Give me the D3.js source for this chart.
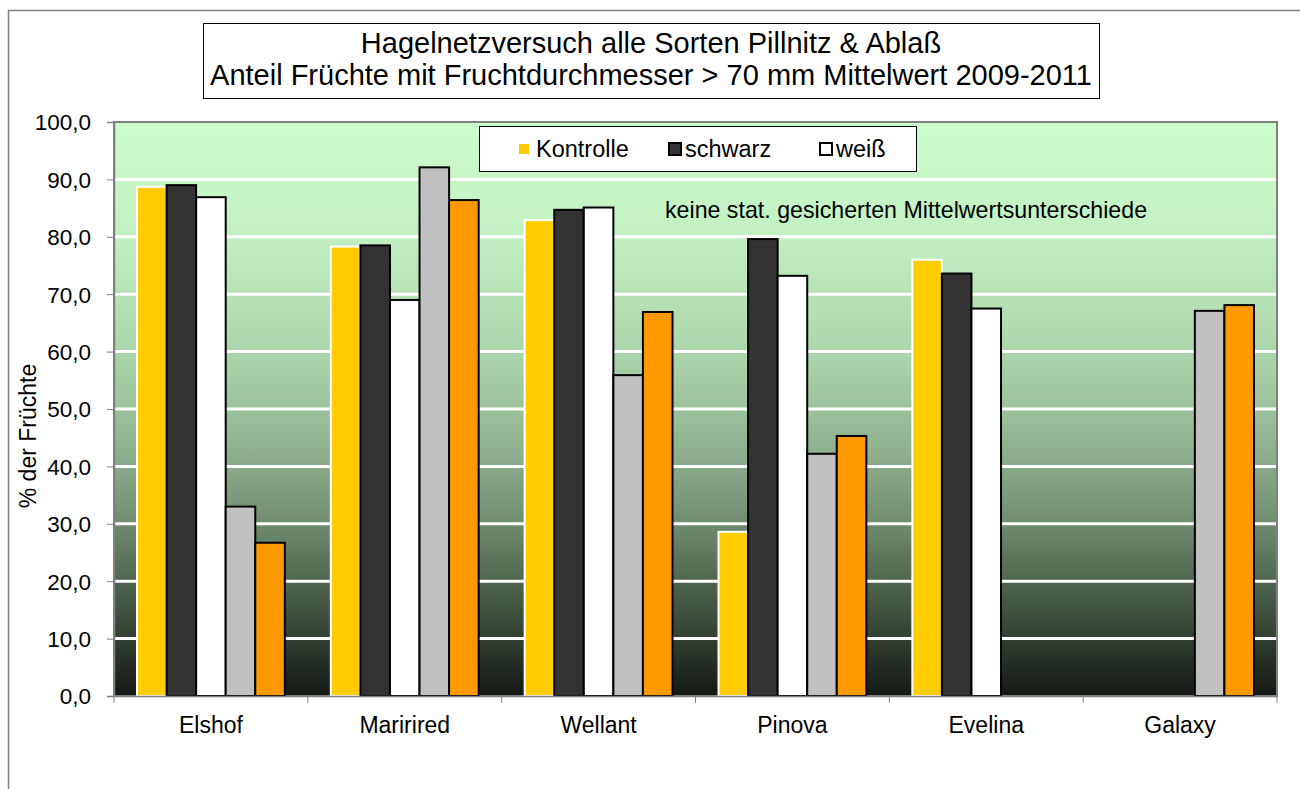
<!DOCTYPE html>
<html>
<head>
<meta charset="utf-8">
<script src="https://cdn.jsdelivr.net/npm/d3@7.9.0/dist/d3.min.js"></script>
<style>
  body { margin: 0; background: #fff; }
  svg { font-family: "Liberation Sans", Arial, sans-serif; }
</style>
</head>
<body>
<svg id="chart" width="1300" height="789"></svg>
<script>
// data
const categories = ['Elshof', 'Maririred', 'Wellant', 'Pinova', 'Evelina', 'Galaxy'];
const seriesNames = ['Kontrolle', 'schwarz', 'weiß', 'grau', 'orange'];
const kontrolle = [88.7, 78.3, 82.9, 28.6, 76.0, null];
const schwarz   = [89.0, 78.5, 84.7, 79.6, 73.6, null];
const weiss     = [86.9, 69.0, 85.1, 73.2, 67.5, null];
const grau      = [33.0, 92.1, 55.9, 42.2, null, 67.1];
const orange    = [26.7, 86.4, 66.9, 45.3, null, 68.1];
const yTicks = [0, 10, 20, 30, 40, 50, 60, 70, 80, 90, 100];
const legendNames = ['Kontrolle', 'schwarz', 'weiß'];

const seriesValues = [kontrolle, schwarz, weiss, grau, orange];
const fills   = ['#FFCC00', '#333333', '#FFFFFF', '#C0C0C0', '#FF9900'];
const strokes = ['#FFFFFF', '#000000', '#000000', '#000000', '#000000'];

const svg = d3.select('#chart');
const plotLeft = 114, plotTop = 122, plotRight = 1277, plotBottom = 696;

/* outer chart frame */
svg.append('path')
  .attr('d', `M8.5,800 V10.5 H1310`)
  .attr('fill', 'none').attr('stroke', '#808080').attr('stroke-width', 1.5);

/* scales */
const x0 = d3.scaleBand().domain(categories).range([plotLeft, plotRight]);
const x1 = d3.scaleBand().domain(seriesNames)
  .range([23, x0.bandwidth() - 23]);
const y = d3.scaleLinear().domain([0, 100]).range([plotBottom, plotTop]);

/* background gradient */
const defs = svg.append('defs');
const grad = defs.append('linearGradient')
  .attr('id', 'bg').attr('x1', 0).attr('y1', 0).attr('x2', 0).attr('y2', 1);
[[0, '#ccfdcc'], [0.2, '#c2f0c2'], [0.4, '#abd6ab'], [0.5, '#9cc29c'],
 [0.6, '#89aa89'], [0.7, '#6f8c6f'], [0.8, '#4f654f'], [0.9, '#323f32'], [1, '#141814']]
  .forEach(([o, c]) => grad.append('stop').attr('offset', o).attr('stop-color', c));

svg.append('rect')
  .attr('x', plotLeft).attr('y', plotTop)
  .attr('width', plotRight - plotLeft).attr('height', plotBottom - plotTop)
  .attr('fill', 'url(#bg)');

/* gridlines */
svg.append('g')
  .selectAll('line')
  .data(yTicks.filter(d => d > 0 && d < 100))
  .join('line')
  .attr('x1', plotLeft).attr('x2', plotRight)
  .attr('y1', d => y(d)).attr('y2', d => y(d))
  .attr('stroke', '#fff').attr('stroke-width', 3);

/* plot border */
svg.append('rect')
  .attr('x', plotLeft).attr('y', plotTop)
  .attr('width', plotRight - plotLeft).attr('height', plotBottom - plotTop)
  .attr('fill', 'none').attr('stroke', '#808080').attr('stroke-width', 2);

/* bars */
const barData = [];
categories.forEach((c, i) => {
  seriesNames.forEach((s, j) => {
    const v = seriesValues[j][i];
    if (v != null) barData.push({ cat: c, series: s, idx: j, value: v });
  });
});

svg.append('g')
  .selectAll('rect')
  .data(barData)
  .join('rect')
  .attr('x', d => x0(d.cat) + x1(d.series))
  .attr('y', d => y(d.value))
  .attr('width', x1.bandwidth())
  .attr('height', d => y(0) - y(d.value))
  .attr('fill', d => fills[d.idx])
  .attr('stroke', d => strokes[d.idx])
  .attr('stroke-width', 2);

/* y axis */
const yAxis = svg.append('g')
  .attr('transform', `translate(${plotLeft},0)`)
  .call(d3.axisLeft(y).tickValues(yTicks).tickSize(7)
    .tickFormat(d => d3.format('.1f')(d).replace('.', ',')));
yAxis.select('.domain').attr('stroke', '#808080').attr('stroke-width', 1.5);
yAxis.selectAll('.tick line').attr('stroke', '#808080');
yAxis.selectAll('.tick text')
  .attr('font-size', 22.5).attr('fill', '#000')
  .attr('font-family', '"Liberation Sans", Arial, sans-serif')
  .attr('x', -23).attr('dy', '0.35em');

/* x axis */
const xAxis = svg.append('g')
  .attr('transform', `translate(0,${plotBottom})`)
  .call(d3.axisBottom(x0).tickSize(0));
xAxis.select('.domain').attr('stroke', '#808080').attr('stroke-width', 1.5);
xAxis.selectAll('.tick text')
  .attr('font-size', 23).attr('fill', '#000')
  .attr('font-family', '"Liberation Sans", Arial, sans-serif')
  .attr('dy', 0).attr('y', 37);
// category separator ticks
svg.append('g')
  .selectAll('line')
  .data(categories.concat(['end']))
  .join('line')
  .attr('x1', (d, i) => i < categories.length ? x0(d) : plotRight)
  .attr('x2', (d, i) => i < categories.length ? x0(d) : plotRight)
  .attr('y1', plotBottom).attr('y2', plotBottom + 7)
  .attr('stroke', '#808080').attr('stroke-width', 1);

/* y axis title */
svg.append('text')
  .attr('transform', `translate(36,436) rotate(-90)`)
  .attr('text-anchor', 'middle')
  .attr('font-size', 23)
  .text('% der Früchte');

/* title box */
svg.append('rect')
  .attr('x', 203.5).attr('y', 23.5).attr('width', 896).attr('height', 75)
  .attr('fill', '#fff').attr('stroke', '#000').attr('stroke-width', 1);
svg.append('text')
  .attr('x', 651).attr('y', 53).attr('text-anchor', 'middle').attr('font-size', 29)
  .text('Hagelnetzversuch alle Sorten Pillnitz & Ablaß');
svg.append('text')
  .attr('x', 651).attr('y', 85).attr('text-anchor', 'middle').attr('font-size', 29)
  .text('Anteil Früchte mit Fruchtdurchmesser > 70 mm Mittelwert 2009-2011');

/* legend */
const legend = svg.append('g');
legend.append('rect')
  .attr('x', 479.5).attr('y', 126.5).attr('width', 437).attr('height', 45)
  .attr('fill', '#fff').attr('stroke', '#000').attr('stroke-width', 1);
const legendX = [518, 669, 820];
legendNames.forEach((n, i) => {
  legend.append('rect')
    .attr('x', legendX[i]).attr('y', 143).attr('width', 12).attr('height', 12)
    .attr('fill', fills[i])
    .attr('stroke', strokes[i]).attr('stroke-width', 2);
  legend.append('text')
    .attr('x', legendX[i] + (i === 0 ? 18 : 16)).attr('y', 157)
    .attr('font-size', 23.5)
    .text(n);
});

/* annotation */
svg.append('text')
  .attr('x', 665).attr('y', 218)
  .attr('font-size', 23.2)
  .text('keine stat. gesicherten Mittelwertsunterschiede');
</script>
</body>
</html>
